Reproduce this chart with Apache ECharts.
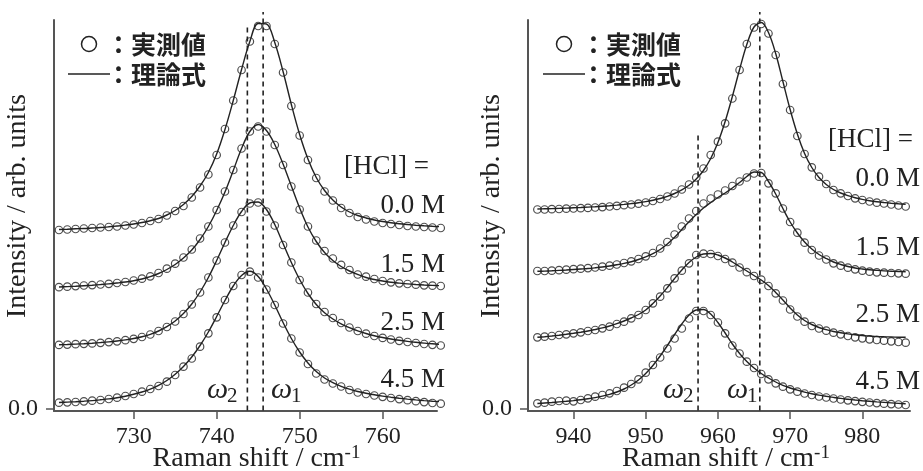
<!DOCTYPE html>
<html><head><meta charset="utf-8">
<script src="https://cdn.jsdelivr.net/npm/echarts@6/dist/echarts.min.js"></script>
<style>html,body{margin:0;padding:0;background:#fff}#c{width:923px;height:471px}</style>
</head><body><div id="c"></div>
<script>
// ---------- data ----------
const leftShift = [721,722,723,724,725,726,727,728,729,730,731,732,733,734,735,736,737,738,739,740,741,742,743,744,745,746,747,748,749,750,751,752,753,754,755,756,757,758,759,760,761,762,763,764,765,766,767];
const rightShift = [935,936,937,938,939,940,941,942,943,944,945,946,947,948,949,950,951,952,953,954,955,956,957,958,959,960,961,962,963,964,965,966,967,968,969,970,971,972,973,974,975,976,977,978,979,980,981,982,983,984,985,986];

const left00Meas = [1.785,1.79,1.795,1.80,1.805,1.81,1.815,1.82,1.83,1.84,1.855,1.875,1.895,1.93,1.975,2.025,2.11,2.21,2.34,2.535,2.795,3.08,3.385,3.67,3.825,3.825,3.645,3.36,3.025,2.73,2.485,2.305,2.17,2.08,2.005,1.955,1.915,1.89,1.87,1.855,1.845,1.835,1.825,1.82,1.815,1.81,1.805];
const left00Fit = [1.79,1.793,1.797,1.80,1.805,1.81,1.817,1.825,1.834,1.845,1.86,1.878,1.90,1.935,1.98,2.04,2.12,2.225,2.36,2.545,2.79,3.08,3.39,3.67,3.85,3.845,3.66,3.37,3.04,2.74,2.495,2.31,2.18,2.085,2.015,1.965,1.93,1.905,1.885,1.87,1.858,1.848,1.84,1.833,1.827,1.822,1.818];
const left15Meas = [1.213,1.218,1.224,1.23,1.234,1.24,1.247,1.255,1.265,1.28,1.298,1.322,1.355,1.398,1.448,1.51,1.59,1.70,1.82,1.985,2.17,2.385,2.60,2.77,2.82,2.77,2.635,2.435,2.22,1.99,1.82,1.68,1.575,1.50,1.437,1.385,1.34,1.318,1.295,1.275,1.262,1.252,1.245,1.238,1.232,1.228,1.225];
const left15Fit = [1.215,1.219,1.223,1.228,1.233,1.239,1.246,1.255,1.265,1.278,1.295,1.318,1.35,1.39,1.44,1.505,1.585,1.69,1.82,1.98,2.165,2.38,2.6,2.77,2.84,2.78,2.64,2.445,2.225,2.005,1.815,1.67,1.56,1.48,1.42,1.375,1.34,1.31,1.29,1.275,1.263,1.254,1.246,1.24,1.235,1.231,1.228];
const left25Meas = [0.636,0.639,0.643,0.647,0.651,0.657,0.664,0.672,0.683,0.697,0.715,0.74,0.775,0.815,0.87,0.945,1.04,1.16,1.31,1.48,1.66,1.83,1.965,2.05,2.06,1.97,1.83,1.635,1.46,1.285,1.16,1.045,0.965,0.905,0.855,0.81,0.775,0.748,0.725,0.706,0.69,0.677,0.665,0.655,0.645,0.637,0.63];
const left25Fit = [0.637,0.64,0.644,0.648,0.653,0.659,0.666,0.675,0.686,0.7,0.718,0.742,0.775,0.818,0.875,0.95,1.045,1.165,1.31,1.48,1.66,1.83,1.97,2.055,2.065,1.99,1.84,1.65,1.46,1.29,1.15,1.04,0.958,0.895,0.847,0.808,0.776,0.75,0.728,0.71,0.695,0.682,0.671,0.662,0.654,0.647,0.642];
const left45Meas = [0.058,0.062,0.065,0.072,0.078,0.085,0.095,0.108,0.125,0.145,0.168,0.195,0.225,0.268,0.335,0.418,0.50,0.618,0.752,0.912,1.085,1.225,1.335,1.368,1.31,1.19,1.035,0.85,0.70,0.56,0.445,0.35,0.29,0.25,0.22,0.185,0.16,0.145,0.13,0.117,0.105,0.094,0.083,0.073,0.064,0.055,0.048];
const left45Fit = [0.06,0.064,0.068,0.073,0.079,0.087,0.096,0.108,0.123,0.142,0.165,0.194,0.232,0.28,0.342,0.42,0.515,0.63,0.765,0.92,1.08,1.225,1.33,1.372,1.32,1.195,1.035,0.86,0.70,0.565,0.455,0.37,0.305,0.258,0.222,0.193,0.17,0.152,0.137,0.124,0.113,0.103,0.094,0.086,0.079,0.073,0.068];

const right00Meas = [1.99,1.99,1.993,1.995,1.998,2.0,2.003,2.006,2.01,2.014,2.02,2.026,2.033,2.04,2.048,2.06,2.075,2.095,2.12,2.15,2.19,2.24,2.31,2.40,2.535,2.668,2.852,3.10,3.385,3.645,3.81,3.845,3.75,3.535,3.245,2.985,2.725,2.545,2.412,2.318,2.245,2.185,2.152,2.125,2.102,2.085,2.07,2.058,2.05,2.04,2.03,2.02];
const right00Fit = [1.995,1.997,1.999,2.001,2.004,2.007,2.01,2.014,2.018,2.023,2.028,2.034,2.041,2.049,2.058,2.069,2.083,2.1,2.122,2.15,2.186,2.232,2.295,2.38,2.5,2.66,2.87,3.12,3.39,3.64,3.815,3.86,3.76,3.55,3.27,2.99,2.745,2.55,2.41,2.31,2.24,2.19,2.155,2.128,2.107,2.091,2.078,2.068,2.06,2.053,2.047,2.042];
const right15Meas = [1.375,1.375,1.378,1.383,1.388,1.393,1.398,1.404,1.41,1.418,1.428,1.44,1.455,1.472,1.495,1.522,1.555,1.6,1.665,1.74,1.82,1.90,1.975,2.05,2.10,2.14,2.18,2.225,2.27,2.31,2.35,2.355,2.252,2.152,2.0,1.865,1.758,1.658,1.585,1.53,1.49,1.452,1.428,1.408,1.392,1.378,1.368,1.362,1.358,1.355,1.352,1.348];
const right15Fit = [1.372,1.374,1.377,1.381,1.385,1.39,1.395,1.40,1.407,1.415,1.425,1.437,1.451,1.468,1.49,1.516,1.548,1.59,1.645,1.712,1.79,1.868,1.94,2.005,2.06,2.11,2.155,2.205,2.26,2.32,2.365,2.36,2.27,2.145,2.0,1.865,1.755,1.665,1.595,1.54,1.5,1.465,1.44,1.42,1.405,1.395,1.387,1.381,1.376,1.373,1.37,1.368];
const right25Meas = [0.712,0.718,0.725,0.735,0.742,0.752,0.762,0.775,0.785,0.802,0.818,0.845,0.868,0.902,0.935,0.985,1.052,1.118,1.202,1.302,1.378,1.452,1.535,1.548,1.545,1.525,1.495,1.458,1.41,1.363,1.325,1.288,1.225,1.152,1.08,0.99,0.92,0.868,0.825,0.80,0.778,0.758,0.742,0.725,0.712,0.702,0.692,0.685,0.678,0.672,0.665,0.658];
const right25Fit = [0.712,0.718,0.725,0.733,0.742,0.752,0.763,0.775,0.79,0.806,0.825,0.848,0.875,0.905,0.94,0.985,1.05,1.125,1.21,1.30,1.385,1.46,1.515,1.545,1.55,1.535,1.505,1.465,1.42,1.375,1.33,1.285,1.23,1.16,1.085,1.005,0.935,0.88,0.84,0.81,0.788,0.77,0.757,0.746,0.737,0.73,0.725,0.72,0.717,0.715,0.713,0.712];
const right45Meas = [0.052,0.058,0.068,0.075,0.078,0.072,0.085,0.102,0.118,0.135,0.152,0.175,0.208,0.245,0.292,0.358,0.435,0.51,0.60,0.70,0.80,0.90,0.975,0.975,0.935,0.86,0.752,0.63,0.55,0.468,0.405,0.345,0.292,0.252,0.218,0.192,0.168,0.15,0.135,0.12,0.11,0.1,0.09,0.082,0.074,0.067,0.06,0.054,0.048,0.044,0.04,0.035];
const right45Fit = [0.05,0.055,0.06,0.066,0.072,0.079,0.087,0.097,0.109,0.124,0.142,0.165,0.195,0.235,0.285,0.35,0.43,0.525,0.63,0.74,0.845,0.935,0.985,0.99,0.945,0.86,0.755,0.645,0.55,0.47,0.405,0.35,0.305,0.265,0.232,0.205,0.183,0.164,0.148,0.134,0.122,0.111,0.101,0.093,0.085,0.078,0.072,0.066,0.061,0.056,0.051,0.047];

// omega positions (cm-1) and dashed-line top values
const leftOmega = [745.6, 743.7];      // ω1, ω2
const leftOmegaTop = [3.965, 3.815];
const rightOmega = [965.8, 957.25];
const rightOmegaTop = [3.965, 2.735];

const leftTicks = [730, 740, 750, 760];
const rightTicks = [940, 950, 960, 970, 980];
const concLabels = ['0.0 M', '1.5 M', '2.5 M', '4.5 M'];

// ---------- chart ----------
const INK = '#222', AXIS = '#555';
const SERIF = 'Liberation Serif';
const pairs = (xs, ys) => xs.map((x, i) => [x, ys[i]]);

function xAxisCfg(grid, min, max, ticks, padLeft) {
  return {
    gridIndex: grid, type: 'value', min: min, max: max,
    splitLine: {show: false},
    axisLine: {show: true, onZero: false, lineStyle: {color: AXIS, width: 2}},
    axisTick: {show: true, customValues: ticks, length: 8, lineStyle: {color: AXIS, width: 1.5}},
    axisLabel: {customValues: ticks, color: INK, fontFamily: SERIF, fontSize: 24, margin: 14},
    name: '{a|Raman shift / cm}{b|-1}', nameLocation: 'middle', nameGap: 33, nameMoveOverlap: false,
    nameTextStyle: {padding: [0, 0, 0, padLeft], rich: {
      a: {fontFamily: SERIF, fontSize: 28, color: INK, lineHeight: 30},
      b: {fontFamily: SERIF, fontSize: 19, color: INK, verticalAlign: 'top', lineHeight: 19}
    }}
  };
}
function yAxisCfg(grid) {
  return {
    gridIndex: grid, type: 'value', min: -0.025, max: 3.885,
    splitLine: {show: false},
    axisLine: {show: true, onZero: false, lineStyle: {color: AXIS, width: 2}},
    axisTick: {show: true, customValues: [0], length: 8, lineStyle: {color: AXIS, width: 1.5}},
    axisLabel: {customValues: [0], color: INK, fontFamily: SERIF, fontSize: 24, margin: 16,
      formatter: v => Number(v).toFixed(1)},
    name: 'Intensity / arb. units', nameLocation: 'middle', nameGap: 22, nameMoveOverlap: false,
    nameTextStyle: {fontFamily: SERIF, fontSize: 28, color: INK, padding: [0, 0, 0, 19]}
  };
}

const series = [];
function addPanel(idx, xs, fits, meas, omega, omegaTop) {
  fits.forEach(f => series.push({
    type: 'line', xAxisIndex: idx, yAxisIndex: idx, data: pairs(xs, f),
    smooth: 0.35, showSymbol: false, clip: false, silent: true, z: 2,
    lineStyle: {color: INK, width: 1.4}
  }));
  omega.forEach((w, i) => series.push({
    type: 'line', xAxisIndex: idx, yAxisIndex: idx,
    data: [[w, -0.02], [w, omegaTop[i]]],
    showSymbol: false, clip: false, silent: true, z: 1,
    lineStyle: {color: INK, width: 1.6, type: [5, 4]}
  }));
  meas.forEach(m => series.push({
    type: 'scatter', xAxisIndex: idx, yAxisIndex: idx, data: pairs(xs, m),
    symbol: 'circle', symbolSize: 7.5, clip: false, silent: true, z: 3,
    itemStyle: {color: 'rgba(0,0,0,0)', borderColor: INK, borderWidth: 1.2}
  }));
}
addPanel(0, leftShift, [left00Fit, left15Fit, left25Fit, left45Fit],
         [left00Meas, left15Meas, left25Meas, left45Meas], leftOmega, leftOmegaTop);
addPanel(1, rightShift, [right00Fit, right15Fit, right25Fit, right45Fit],
         [right00Meas, right15Meas, right25Meas, right45Meas], rightOmega, rightOmegaTop);

// ---------- annotations ----------
const JP = '"Noto Sans CJK JP"';
function txt(x, y, text, font, align, valign) {
  return {type: 'text', x: x, y: y, silent: true, z: 10,
    style: {text: text, font: font, fill: INK, textAlign: align || 'left', align: align || 'left',
      textVerticalAlign: valign || 'middle', verticalAlign: valign || 'middle'}};
}
const graphics = [];
function legendBlock(dx) {
  graphics.push({type: 'circle', shape: {cx: 89 + dx, cy: 44, r: 7.5}, silent: true, z: 10,
    style: {fill: 'none', stroke: INK, lineWidth: 1.5}});
  graphics.push(txt(106 + dx, 44, '：実測値', 'bold 25px ' + JP));
  graphics.push({type: 'line', shape: {x1: 68 + dx, y1: 74, x2: 110 + dx, y2: 74}, silent: true, z: 10,
    style: {stroke: INK, lineWidth: 1.5}});
  graphics.push(txt(106 + dx, 74, '：理論式', 'bold 25px ' + JP));
}
legendBlock(0);
legendBlock(475);

const serifFont = '27px "' + SERIF + '"';
graphics.push(txt(429, 167, '[HCl] =', serifFont, 'right'));
graphics.push(txt(913, 140, '[HCl] =', serifFont, 'right'));
const leftConcY = [206, 265, 323, 380];
const rightConcY = [179, 248, 315, 382];
concLabels.forEach((t, i) => {
  graphics.push(txt(445, leftConcY[i], t, serifFont, 'right'));
  graphics.push(txt(920, rightConcY[i], t, serifFont, 'right'));
});
function omegaLabel(x, sub) {
  graphics.push(txt(x, 390, 'ω', 'italic 30px "' + SERIF + '"', 'left'));
  graphics.push(txt(x + 20, 396, sub, '21px "' + SERIF + '"', 'left'));
}
omegaLabel(207, '2'); omegaLabel(271, '1');
omegaLabel(663, '2'); omegaLabel(727, '1');

const chart = echarts.init(document.getElementById('c'), null, {renderer: 'canvas'});
chart.setOption({
  backgroundColor: '#fff',
  animation: false,
  grid: [
    {left: 54, top: 20, width: 383, height: 391, containLabel: false, outerBoundsMode: 'none'},
    {left: 528, top: 20, width: 382, height: 391, containLabel: false, outerBoundsMode: 'none'}
  ],
  xAxis: [xAxisCfg(0, 720.4, 766.55, leftTicks, 22), xAxisCfg(1, 933.7, 986.6, rightTicks, 14)],
  yAxis: [yAxisCfg(0), yAxisCfg(1)],
  series: series,
  graphic: graphics
});
</script>
</body></html>
